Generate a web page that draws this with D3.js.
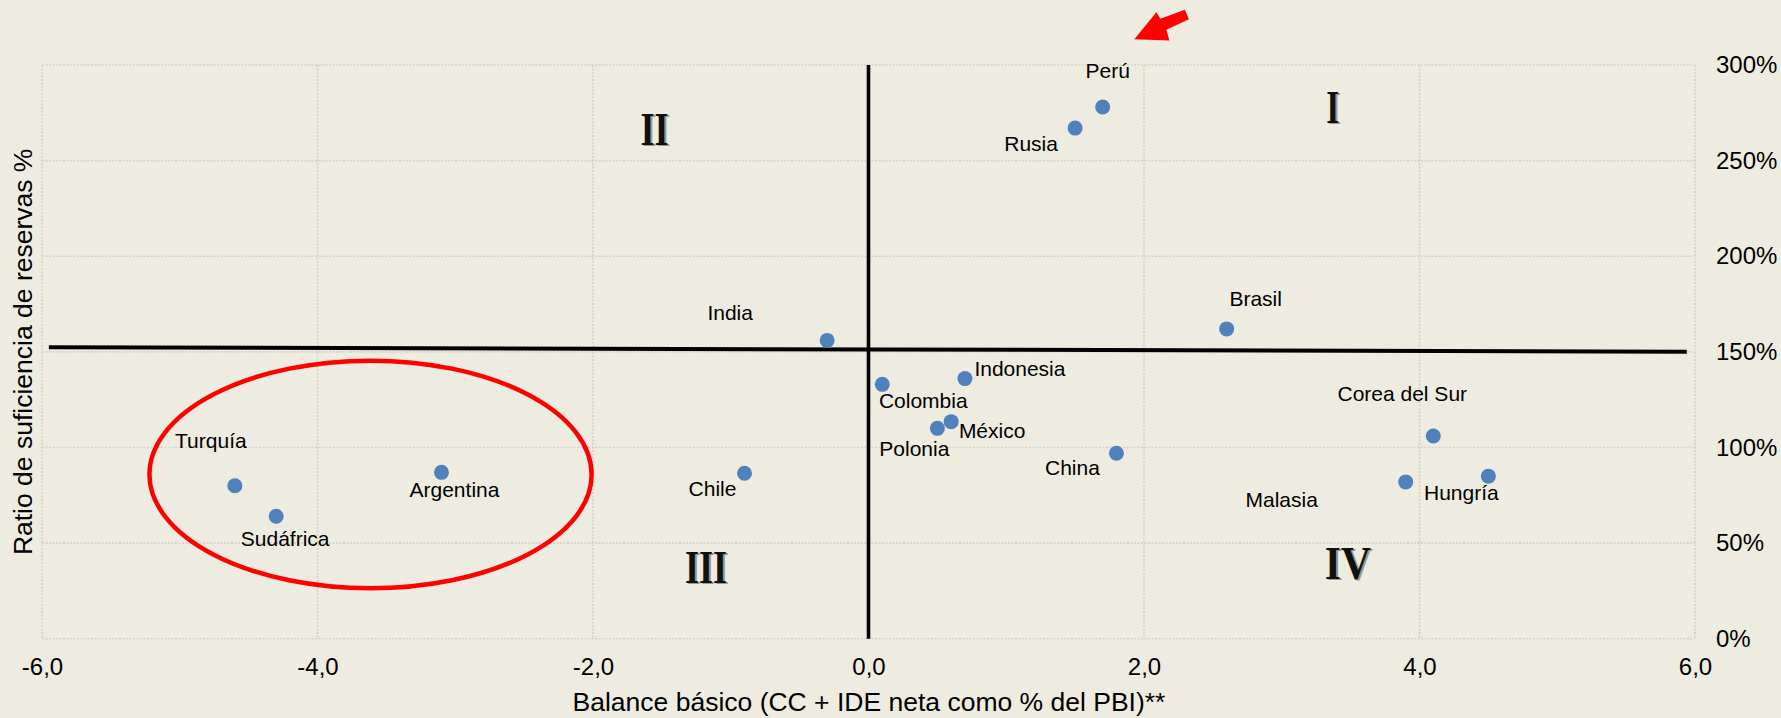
<!DOCTYPE html>
<html>
<head>
<meta charset="utf-8">
<script src="https://cdn.jsdelivr.net/npm/d3@7"></script>
<style>
  html, body { margin: 0; padding: 0; background: #EEECE1; }
  svg { display: block; }
  text { font-family: "Liberation Sans", Arial, sans-serif; fill: #000; }
</style>
</head>
<body>
<svg id="chart" width="1781" height="718"></svg>
<script>
// Country scatter: basic balance (x) vs reserve adequacy ratio (y)
const countries = ["India", "Perú", "Rusia", "Brasil", "Turquía", "Sudáfrica", "Argentina", "Chile",
  "Colombia", "Indonesia", "México", "Polonia", "China", "Corea del Sur", "Malasia", "Hungría"];
const balance  = [-0.3, 1.7, 1.5, 2.6, -4.6, -4.3, -3.1, -0.9, 0.1, 0.7, 0.6, 0.5, 1.8, 4.1, 3.9, 4.5];
const reserves = [156, 278, 267, 162, 80, 64, 87, 86.5, 133, 136, 113.5, 110, 97, 106, 82, 85];

const xTicks = [-6, -4, -2, 0, 2, 4, 6];
const yTicks = [0, 50, 100, 150, 200, 250, 300];
const quadrants = ["I", "II", "III", "IV"];

const xTitle = "Balance básico (CC + IDE neta como % del PBI)**";
const yTitle = "Ratio de suficiencia de reservas %";

// ---- layout ----
const W = 1781, H = 718;
const plot = { left: 42, right: 1695, top: 65, bottom: 638.7 };

const x = d3.scaleLinear().domain([-6, 6]).range([plot.left, plot.right]);
const y = d3.scaleLinear().domain([0, 300]).range([plot.bottom, plot.top]);

// label placement (pixel offsets from each point: centre x, baseline y)
const labelOffset = {
  "India": [-97, -20], "Perú": [5, -29], "Rusia": [-44, 23], "Brasil": [29, -23],
  "Turquía": [-24, -38], "Sudáfrica": [9, 30], "Argentina": [13, 25], "Chile": [-32, 23],
  "Colombia": [41, 24], "Indonesia": [55, -3], "México": [41, 16], "Polonia": [-23, 28],
  "China": [-44, 22], "Corea del Sur": [-31, -35], "Malasia": [-124, 25], "Hungría": [-27, 24]
};

// quadrant numerals, in data units (x centre, y baseline) plus drawn width
const quadrantPos = {
  "I":   { x: 3.37,  y: 269.7, w: 13 },
  "II":  { x: -1.553, y: 258.2, w: 28 },
  "III": { x: -1.18, y: 29.1,  w: 42 },
  "IV":  { x: 3.48,  y: 31.2,  w: 46 }
};

// highlighted group and the quadrant divider lines, in data units
const ring = { x0: -5.22, x1: -2.01, y0: 26.4, y1: 145.4 };
const hDivider = { x0: -5.95, y0: 152.4, x1: 5.94, y1: 150.1 };
const vDivider = { x: 0, y0: 0, y1: 300 };

const locale = d3.formatLocale({ decimal: ",", thousands: ".", grouping: [3], currency: ["$", ""], minus: "-" });
const fmtX = locale.format(".1f");

const svg = d3.select("#chart");
svg.append("rect").attr("width", W).attr("height", H).attr("fill", "#EEECE1");

// ---- gridlines (dotted) ----
const grid = svg.append("g")
  .attr("stroke", "#d3d1cb").attr("stroke-width", 1.6).attr("stroke-dasharray", "2,1.5").attr("fill", "none");
grid.selectAll("line.v").data(xTicks).join("line").attr("class", "v")
  .attr("x1", d => x(d)).attr("x2", d => x(d)).attr("y1", y(300)).attr("y2", y(0));
grid.selectAll("line.h").data(yTicks).join("line").attr("class", "h")
  .attr("x1", x(-6)).attr("x2", x(6)).attr("y1", d => y(d)).attr("y2", d => y(d));

// ---- axes ----
const xAxis = svg.append("g").attr("transform", `translate(0,${plot.bottom})`)
  .call(d3.axisBottom(x).tickValues(xTicks).tickFormat(fmtX).tickSize(0).tickPadding(19));
xAxis.select(".domain").remove();
xAxis.selectAll("text").attr("font-size", 24).style("fill", "#000")
  .style("font-family", "'Liberation Sans', Arial, sans-serif");

const yAxis = svg.append("g").attr("transform", `translate(${plot.right},0)`)
  .call(d3.axisRight(y).tickValues(yTicks).tickFormat(d => d + "%").tickSize(0).tickPadding(21));
yAxis.select(".domain").remove();
yAxis.selectAll("text").attr("font-size", 24).style("fill", "#000")
  .style("font-family", "'Liberation Sans', Arial, sans-serif");

// axis titles
svg.append("text").attr("x", 869).attr("y", 711).attr("text-anchor", "middle")
  .attr("font-size", 26.5).text(xTitle);
svg.append("text").attr("transform", `translate(32,${(plot.top + plot.bottom) / 2}) rotate(-90)`)
  .attr("text-anchor", "middle").attr("font-size", 26.5).text(yTitle);

// ---- quadrant dividers ----
svg.append("line")
  .attr("x1", x(vDivider.x)).attr("x2", x(vDivider.x))
  .attr("y1", y(vDivider.y1)).attr("y2", y(vDivider.y0))
  .attr("stroke", "#000").attr("stroke-width", 3.6);
svg.append("line")
  .attr("x1", x(hDivider.x0)).attr("y1", y(hDivider.y0))
  .attr("x2", x(hDivider.x1)).attr("y2", y(hDivider.y1))
  .attr("stroke", "#000").attr("stroke-width", 4);

// ---- quadrant numerals (engraved look: grey shade behind black letter) ----
const qg = svg.append("g");
quadrants.forEach(q => {
  const p = quadrantPos[q];
  [["#9a9890", 2, 1], ["#111", 0, 0]].forEach(([c, dx, dy]) => {
    qg.append("text")
      .attr("x", x(p.x) - p.w / 2 + dx).attr("y", y(p.y) + dy)
      .attr("textLength", p.w).attr("lengthAdjust", "spacingAndGlyphs")
      .attr("font-size", 47)
      .style("font-family", "'Liberation Serif', 'DejaVu Serif', serif")
      .style("font-weight", "bold")
      .style("fill", c).text(q);
  });
});

// ---- points and labels ----
const pts = countries.map((c, i) => ({ name: c, bx: balance[i], rv: reserves[i] }));

svg.append("g").selectAll("circle").data(pts).join("circle")
  .attr("cx", d => x(d.bx)).attr("cy", d => y(d.rv)).attr("r", 7.5)
  .attr("fill", "#4F81BD");

svg.append("g").selectAll("text").data(pts).join("text")
  .attr("x", d => x(d.bx) + labelOffset[d.name][0])
  .attr("y", d => y(d.rv) + labelOffset[d.name][1])
  .attr("text-anchor", "middle").attr("font-size", 21)
  .text(d => d.name);

// ---- highlight ring around the weakest group ----
svg.append("ellipse")
  .attr("cx", (x(ring.x0) + x(ring.x1)) / 2).attr("cy", (y(ring.y0) + y(ring.y1)) / 2)
  .attr("rx", (x(ring.x1) - x(ring.x0)) / 2).attr("ry", (y(ring.y0) - y(ring.y1)) / 2)
  .attr("fill", "none").attr("stroke", "#FF0000").attr("stroke-width", 4.5);

// ---- pointer arrow toward Perú ----
const tip = [x(1.93), y(313.5)];
const arrowShape = [[0, 0], [22, -27], [26, -20.5], [50.5, -29.5], [54.5, -20], [32, -9.5], [35, 1.2]];
svg.append("polygon")
  .attr("points", arrowShape.map(([dx, dy]) => `${tip[0] + dx},${tip[1] + dy}`).join(" "))
  .attr("fill", "#FF0000");
</script>
</body>
</html>
